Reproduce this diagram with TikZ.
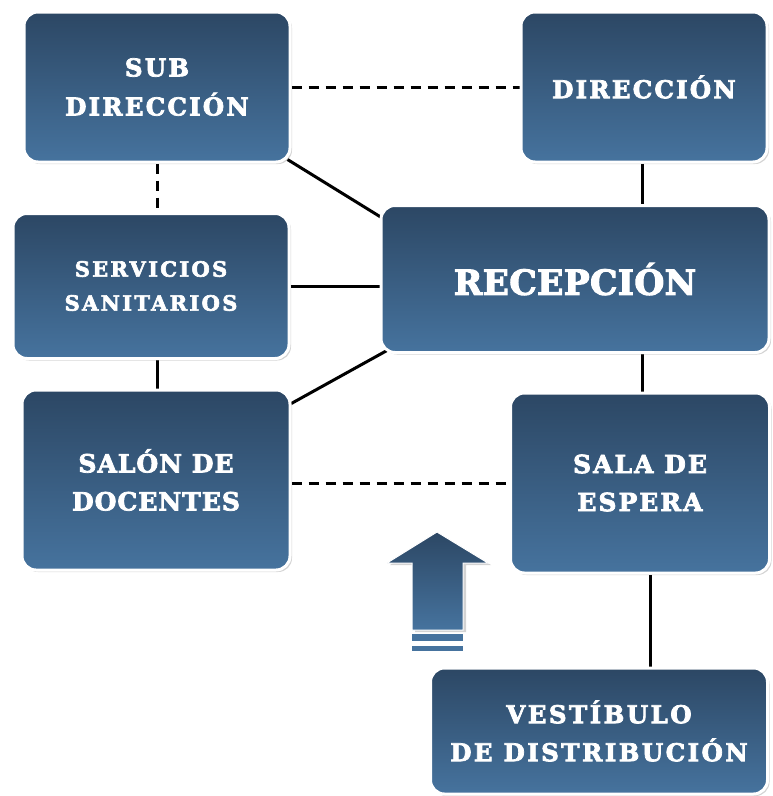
\documentclass[tikz,border=0pt]{standalone}
\usepackage{fontspec}
\newfontfamily\boxfont[FakeBold=3]{DejaVu Serif Bold}
\newcommand\rf[3]{\boxfont\fontsize{#1}{#2}\selectfont\addfontfeature{LetterSpace=#3}}
\usetikzlibrary{shadows,backgrounds,calc}
\definecolor{btop}{HTML}{2C4764}
\definecolor{bbot}{HTML}{46739E}
\tikzset{
  room/.style={rectangle, rounded corners=14pt, draw=white, line width=3pt,
    top color=btop, bottom color=bbot, text=white, align=center,
    inner sep=0pt,
    drop shadow={shadow xshift=2pt, shadow yshift=-2pt, opacity=0.35, fill=gray}},
  link/.style={line width=3pt, black},
  dlink/.style={line width=3pt, black, dash pattern=on 10pt off 7pt}
}
\begin{document}
\begin{tikzpicture}[x=1pt,y=-1pt]
\useasboundingbox (0,0) rectangle (772,796);
\node[room, minimum width=266pt, minimum height=150pt, font=\rf{24.5}{39}{9}] (sub) at (157,87) {SUB\\DIRECCIÓN};
\node[room, minimum width=246pt, minimum height=150pt, font=\rf{24.5}{39}{9}] (dir) at (644,87) {DIRECCIÓN};
\node[room, minimum width=276pt, minimum height=145pt, font=\rf{21}{34}{11}] (serv) at (151,286) {SERVICIOS\\SANITARIOS};
\node[room, minimum width=388pt, minimum height=147pt, font=\rf{34.5}{40}{1}] (rec) at (575,279) {RECEPCIÓN};
\node[room, minimum width=268pt, minimum height=180pt, font=\rf{25}{38}{4}] (salon) at (156,480) {SALÓN DE\\DOCENTES};
\node[room, minimum width=259pt, minimum height=180pt, font=\rf{25}{38}{8}] (sala) at (640,483) {SALA DE\\ESPERA};
\node[room, minimum width=337pt, minimum height=126pt, font=\rf{24.5}{38}{10}] (vest) at (599,731) {VESTÍBULO\\DE DISTRIBUCIÓN};
% arrow
\path[top color=btop, bottom color=bbot, draw=white, line width=1pt,
  drop shadow={shadow xshift=3pt, shadow yshift=-2pt, opacity=0.35, fill=gray}]
  (437,532) -- (488,563) -- (463,563) -- (463,630) -- (412,630) -- (412,563) -- (387,563) -- cycle;
\fill[bbot] (412,634) rectangle (463,641);
\fill[bbot] (412,646) rectangle (463,651);
\begin{scope}[on background layer]
\draw[dlink] (sub) -- (dir);
\draw[dlink] (sub.south) -- (sub.south |- serv.north);
\draw[link] ($(sub.south east)+(-4,-4)$) -- ($(rec.north west)+(6,16)$);
\coordinate (dr) at ($(dir.south)+(-2,0)$);
\draw[link] (dr) -- (dr |- rec.north);
\draw[link] (serv.east) -- (serv.east -| rec.west);
\coordinate (ss) at ($(serv.south)+(6,0)$);
\draw[link] (ss) -- (ss |- salon.north);
\draw[link] ($(salon.north east)+(-2,16)$) -- ($(rec.south west)+(12,-6)$);
\coordinate (rs) at ($(rec.south)+(67,0)$);
\draw[link] (rs) -- (rs |- sala.north);
\coordinate (sd) at (salon.east |- 0,483);
\draw[dlink] (sd) -- (sd -| sala.west);
\coordinate (sv) at ($(sala.south)+(10,0)$);
\draw[link] (sv) -- (sv |- vest.north);
\end{scope}
\end{tikzpicture}
\end{document}
